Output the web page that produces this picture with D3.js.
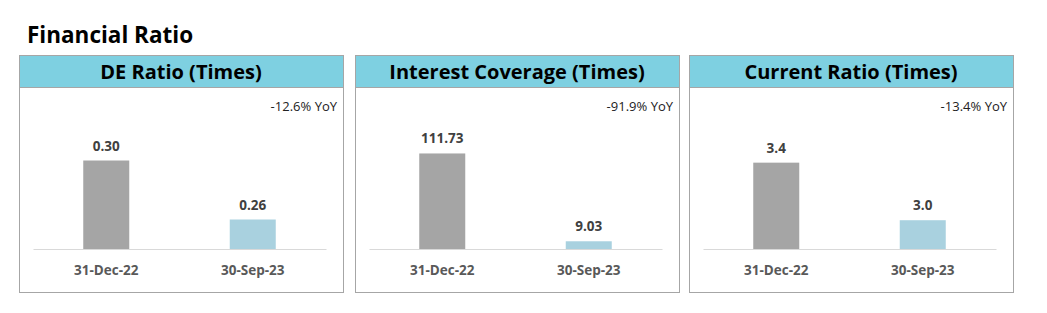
<!DOCTYPE html>
<meta charset="utf-8">
<style>
  body { margin: 0; background: #fff; }
  svg text { font-family: "Open Sans", sans-serif; }
</style>
<body>
<script src="https://d3js.org/d3.v7.min.js"></script>
<script>
// chart data
var chartTitle = "Financial Ratio";
var panelTitles = ["DE Ratio (Times)", "Interest Coverage (Times)", "Current Ratio (Times)"];
var periods = ["31-Dec-22", "30-Sep-23"];
var deRatio = [0.30, 0.26];
var interestCoverage = [111.73, 9.03];
var currentRatio = [3.4, 3.0];
var yoyLabels = ["-12.6% YoY", "-91.9% YoY", "-13.4% YoY"];
var decimals = [2, 2, 1];
// value axis ranges (axes are hidden, bars start from the axis minimum)
var yDomains = [[0.24, 0.32], [0, 138], [2.8, 3.62]];

var series = [deRatio, interestCoverage, currentRatio];
var barColors = ["#a5a5a5", "#a9d1df"];

var W = 1047, H = 313;
var panelLefts = [19, 355, 689];
var panelW = 324, panelH = 237, panelTop = 55, headerH = 32;
var plotTop = 131 - panelTop, baseY = 249 - panelTop;

var svg = d3.select("body").append("svg")
  .attr("width", W)
  .attr("height", H);

svg.append("text")
  .attr("x", 27)
  .attr("y", 43)
  .attr("font-size", "22.5px")
  .attr("font-weight", "bold")
  .attr("fill", "#000")
  .text(chartTitle);

panelTitles.forEach(function(t, i){
  var g = svg.append("g")
    .attr("transform", "translate(" + panelLefts[i] + "," + panelTop + ")");

  g.append("rect")
    .attr("x", 0.5).attr("y", 0.5)
    .attr("width", panelW).attr("height", panelH)
    .attr("fill", "#fff")
    .attr("stroke", "#a6a6a6");

  g.append("rect")
    .attr("x", 0.5).attr("y", 0.5)
    .attr("width", panelW).attr("height", headerH)
    .attr("fill", "#7ed0e1")
    .attr("stroke", "#a6a6a6");

  g.append("text")
    .attr("x", panelW / 2)
    .attr("y", 23.5)
    .attr("text-anchor", "middle")
    .attr("font-size", "20px")
    .attr("font-weight", "bold")
    .attr("fill", "#000")
    .text(t);

  g.append("text")
    .attr("x", panelW - 6)
    .attr("y", 56)
    .attr("text-anchor", "end")
    .attr("font-size", "13px")
    .attr("fill", "#222")
    .text(yoyLabels[i]);

  var x = d3.scaleBand()
    .domain(periods)
    .range([14, panelW - 17])
    .paddingInner(0.686)
    .paddingOuter(0.343);

  var y = d3.scaleLinear()
    .domain(yDomains[i])
    .range([baseY, plotTop]);

  var data = periods.map(function(p, j){ return {period: p, value: series[i][j], idx: j}; });

  g.selectAll(".bar").data(data).enter().append("rect")
    .attr("class", "bar")
    .attr("x", function(d){ return x(d.period); })
    .attr("width", x.bandwidth())
    .attr("y", function(d){ return y(d.value); })
    .attr("height", function(d){ return baseY - y(d.value); })
    .attr("fill", function(d){ return barColors[d.idx]; });

  g.selectAll(".val").data(data).enter().append("text")
    .attr("class", "val")
    .attr("x", function(d){ return x(d.period) + x.bandwidth() / 2; })
    .attr("y", function(d){ return y(d.value) - 10; })
    .attr("text-anchor", "middle")
    .attr("font-size", "13.5px")
    .attr("font-weight", "bold")
    .attr("fill", "#404040")
    .text(function(d){ return d.value.toFixed(decimals[i]); });

  var axis = g.append("g")
    .attr("transform", "translate(0," + baseY + ")")
    .call(d3.axisBottom(x).tickSize(0).tickPadding(16).tickSizeOuter(0));
  axis.select(".domain").attr("stroke", "#d9d9d9");
  axis.selectAll("text")
    .attr("font-size", "13.5px")
    .attr("font-weight", "bold")
    .attr("fill", "#595959")
    .style("font-family", "'Open Sans', sans-serif");
});
</script>
</body>
